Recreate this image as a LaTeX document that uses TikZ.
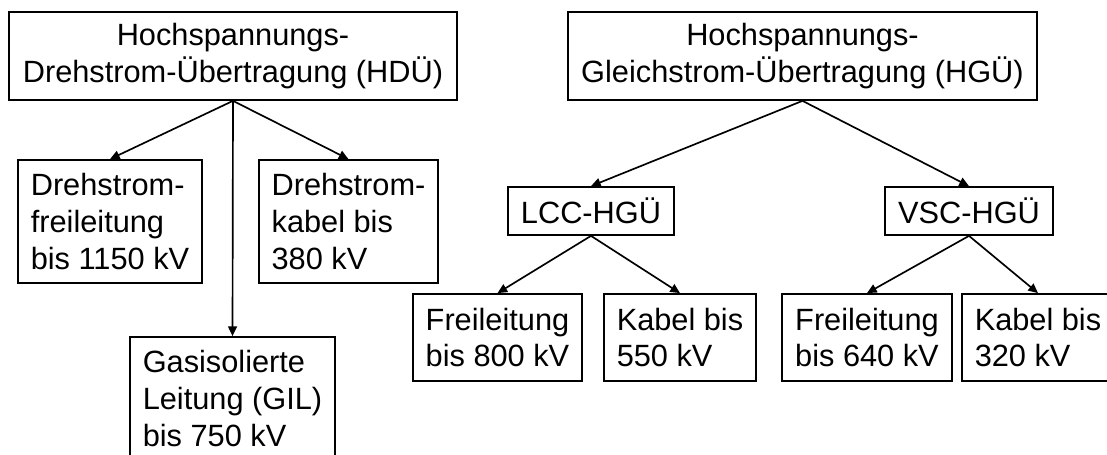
\documentclass[tikz,border=0pt]{standalone}
\usepackage{fontspec}
\setmainfont{Liberation Sans}
\usepackage{tikz}
\usetikzlibrary{arrows.meta}

\begin{document}
\begin{tikzpicture}[x=0.02cm,y=-0.02cm,
  box/.style={draw,line width=1pt,inner xsep=0.24cm,inner ysep=0pt,
    font=\fontsize{17.5}{21}\selectfont},
  lbox/.style={box,align=left},
  cbox/.style={box,align=center},
  conn/.style={line width=0.95pt,-{Triangle[length=5.5pt,width=5pt]}}]
  \useasboundingbox (0,0) rectangle (1107,455);
  % three-phase side
  \node[cbox,minimum width=8.96cm,minimum height=1.76cm] (hdue) at (233,56)
    {Hochspannungs-\\Drehstrom-Übertragung (HDÜ)};
  \node[lbox,minimum width=3.68cm,minimum height=2.46cm] (dfrei) at (110,221.5)
    {Drehstrom-\\freileitung\\bis 1150 kV};
  \node[lbox,minimum width=3.58cm,minimum height=2.46cm] (dkabel) at (348.5,221.5)
    {Drehstrom-\\kabel bis\\380 kV};
  \node[lbox,minimum width=4.1cm,minimum height=2.46cm] (gil) at (232.5,398.5)
    {Gasisolierte\\Leitung (GIL)\\bis 750 kV};
  % direct-current side
  \node[cbox,minimum width=9.38cm,minimum height=1.76cm] (hgue) at (802.5,56)
    {Hochspannungs-\\Gleichstrom-Übertragung (HGÜ)};
  \node[cbox,minimum width=3.32cm,minimum height=0.96cm] (lcc) at (591,211) {LCC-HGÜ};
  \node[cbox,minimum width=3.36cm,minimum height=0.96cm] (vsc) at (969,211) {VSC-HGÜ};
  \node[lbox,minimum width=3.38cm,minimum height=1.74cm] (lfrei) at (497.5,337.5)
    {Freileitung\\bis 800 kV};
  \node[lbox,minimum width=3.04cm,minimum height=1.74cm] (lkabel) at (680,337.5)
    {Kabel bis\\550 kV};
  \node[lbox,minimum width=3.4cm,minimum height=1.74cm] (vfrei) at (867,337.5)
    {Freileitung\\bis 640 kV};
  \node[lbox,minimum width=3.04cm,minimum height=1.74cm] (vkabel) at (1038,337.5)
    {Kabel bis\\320 kV};
  \foreach \a/\b in {hdue/dfrei,hdue/dkabel,hdue/gil,hgue/lcc,hgue/vsc,
                     lcc/lfrei,lcc/lkabel,vsc/vfrei,vsc/vkabel}
    \draw[conn] (\a.south) -- (\b.north);
\end{tikzpicture}
\end{document}
